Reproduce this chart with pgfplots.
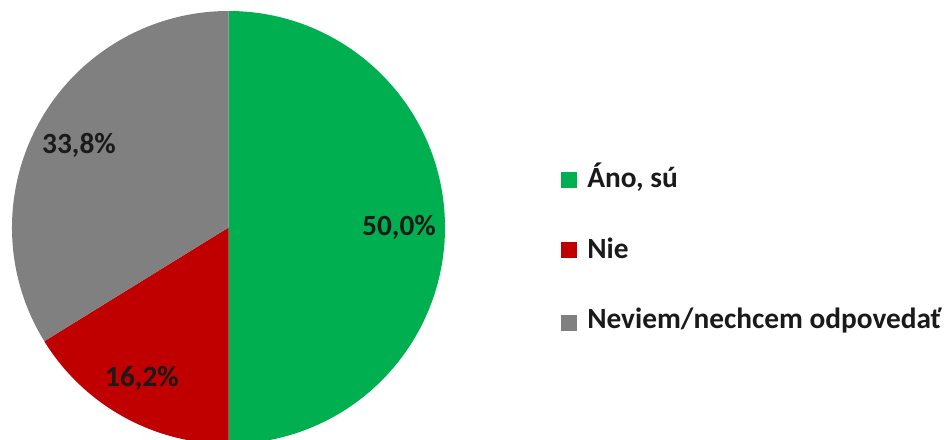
\documentclass[border=0pt]{standalone}
\usepackage{pgfplots}
\pgfplotsset{compat=1.18}
\usepackage{pgfplotstable}
\usepackage{fontspec}
\setmainfont{Carlito}
\definecolor{cgreen}{HTML}{00B050}
\definecolor{cred}{HTML}{C00000}
\definecolor{cgray}{HTML}{808080}
\definecolor{ctext}{HTML}{1A1A1A}
\pgfplotstableread{
label value
Ano 50.0
Nie 16.2
Neviem 33.8
}\piedata
\begin{document}
\begin{tikzpicture}
\pgfplotstablegetelem{0}{value}\of\piedata \let\va\pgfplotsretval
\pgfplotstablegetelem{1}{value}\of\piedata \let\vb\pgfplotsretval
\pgfplotstablegetelem{2}{value}\of\piedata \let\vc\pgfplotsretval
\pgfmathsetmacro{\aA}{90}
\pgfmathsetmacro{\aB}{90-3.6*\va}
\pgfmathsetmacro{\aC}{\aB-3.6*\vb}
\pgfmathsetmacro{\aD}{\aC-3.6*\vc}
\def\R{162.375pt}
\begin{axis}[
  width=711.75pt, height=329.25pt, scale only axis,
  xmin=0, xmax=949, ymin=0, ymax=439,
  hide axis, clip mode=global,
]
\fill[cgreen] (axis cs:228.5,211.5) -- ++(\aA:\R) arc[start angle=\aA, end angle=\aB, radius=\R] -- cycle;
\fill[cred] (axis cs:228.5,211.5) -- ++(\aB:\R) arc[start angle=\aB, end angle=\aC, radius=\R] -- cycle;
\fill[cgray] (axis cs:228.5,211.5) -- ++(\aC:\R) arc[start angle=\aC, end angle=\aD, radius=\R] -- cycle;
\node[font=\fontsize{22}{26}\selectfont\bfseries, text=ctext] at (axis cs:399,211.5) {50,0\%};
\node[font=\fontsize{22}{26}\selectfont\bfseries, text=ctext] at (axis cs:79,294) {33,8\%};
\node[font=\fontsize{22}{26}\selectfont\bfseries, text=ctext] at (axis cs:142,61) {16,2\%};
\fill[cgreen] (axis cs:561,251) rectangle (axis cs:577,267);
\fill[cred] (axis cs:561,181) rectangle (axis cs:577,197);
\fill[cgray] (axis cs:561,108) rectangle (axis cs:577,124);
\node[anchor=base west, inner sep=0pt, font=\fontsize{22}{26}\selectfont\bfseries, text=ctext] at (axis cs:587,251) {Áno, sú};
\node[anchor=base west, inner sep=0pt, font=\fontsize{22}{26}\selectfont\bfseries, text=ctext] at (axis cs:587,180) {Nie};
\node[anchor=base west, inner sep=0pt, font=\fontsize{22}{26}\selectfont\bfseries, text=ctext] at (axis cs:587,110) {Neviem/nechcem odpovedať};
\end{axis}
\pgfresetboundingbox
\path[use as bounding box] (current axis.south west) rectangle (current axis.north east);
\end{tikzpicture}
\end{document}
